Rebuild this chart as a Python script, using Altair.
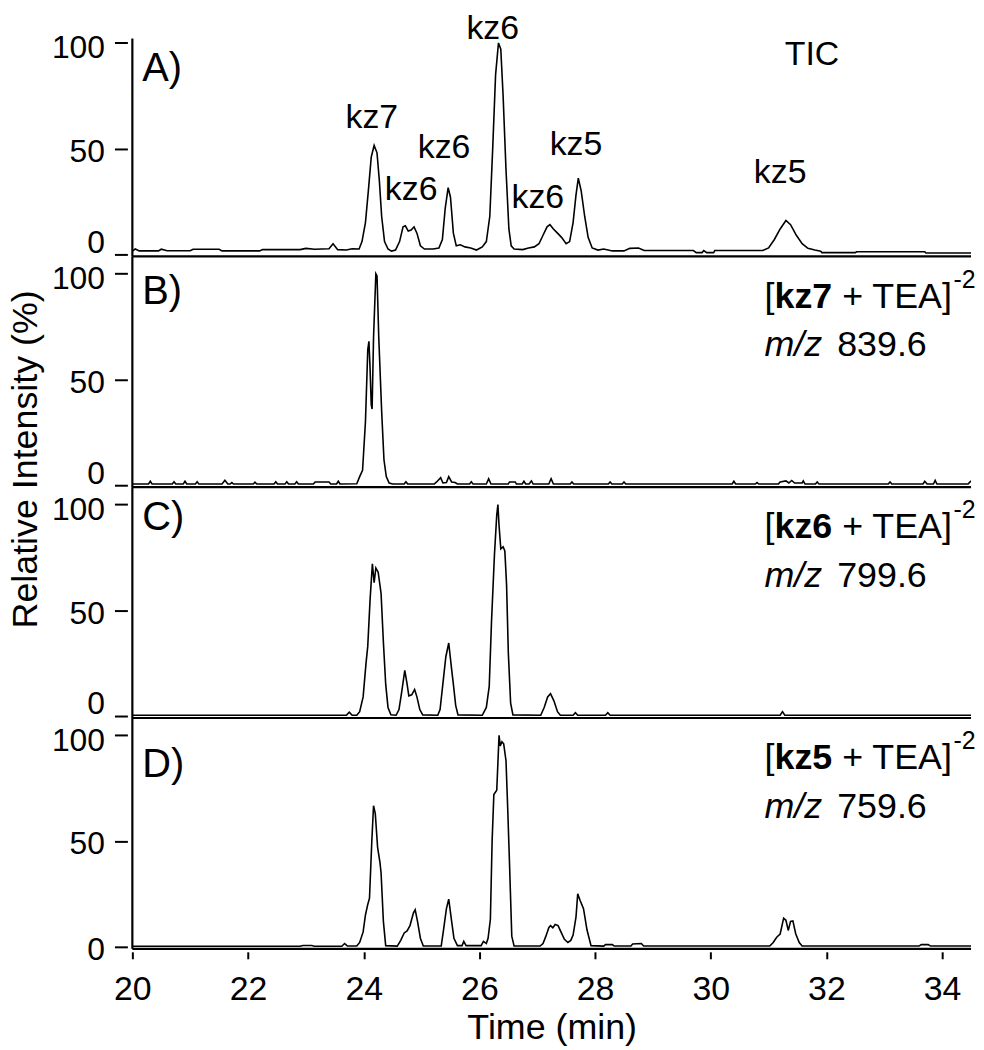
import altair as alt
import pandas as pd

FONT = "Liberation Sans"
T_DOMAIN = [20, 34.5]
V_DOMAIN = [-1, 108.2]
W, H = 843, 232

# ---------------- data ----------------
tic_t = [20.00, 20.05, 20.12, 20.45, 20.50, 20.60, 21.00, 21.05, 21.50, 21.55, 22.20, 22.25, 22.90, 23.00,
         23.15, 23.40, 23.47, 23.55, 23.70, 23.80, 23.92, 23.97, 24.03, 24.08, 24.13, 24.18, 24.23, 24.27,
         24.31, 24.36, 24.42, 24.48, 24.55, 24.62, 24.68, 24.72, 24.77, 24.82, 24.87, 24.92, 24.98, 25.05,
         25.20, 25.30, 25.36, 25.41, 25.46, 25.50, 25.55, 25.60, 25.67, 25.75, 25.85, 25.95, 26.05, 26.12,
         26.18, 26.23, 26.28, 26.33, 26.37, 26.41, 26.46, 26.51, 26.55, 26.60, 26.75, 26.85, 26.95, 27.03,
         27.10, 27.17, 27.22, 27.28, 27.35, 27.42, 27.50, 27.56, 27.62, 27.67, 27.71, 27.76, 27.82, 27.88,
         27.95, 28.05, 28.15, 28.30, 28.50, 28.60, 28.75, 28.85, 29.70, 29.75, 29.85, 29.88, 29.93, 30.05,
         30.07, 30.90, 31.00, 31.10, 31.20, 31.30, 31.38, 31.48, 31.58, 31.68, 31.80, 31.90, 31.92, 32.50,
         32.52, 33.70, 33.72, 34.50]
tic_v = [1.5, 2.5, 1.6, 1.6, 2.4, 1.7, 1.7, 2.4, 2.4, 1.6, 1.6, 2.2, 2.2, 2.8,
         2.4, 2.6, 5.0, 2.2, 2.0, 2.6, 2.5, 6.0, 15.0, 30.0, 46.0, 51.5, 48.0, 35.0,
         18.0, 6.0, 2.5, 1.5, 2.0, 6.0, 13.0, 13.5, 11.0, 11.5, 13.0, 10.0, 4.0, 2.5,
         2.5, 3.0, 7.0, 22.0, 31.5, 27.0, 10.0, 4.0, 4.5, 3.5, 3.0, 2.0, 3.5, 6.0,
         18.0, 50.0, 85.0, 100.0, 97.0, 75.0, 40.0, 12.0, 4.0, 2.5, 2.2, 3.0, 3.5, 5.0,
         9.0, 13.0, 14.0, 12.0, 10.0, 8.0, 5.0, 6.0, 15.0, 28.0, 36.0, 30.0, 18.0, 8.0,
         3.0, 2.0, 2.5, 1.6, 1.6, 2.8, 3.0, 1.8, 1.8, 0.8, 0.8, 1.8, 0.8, 0.8,
         1.8, 1.8, 3.0, 7.0, 12.0, 16.0, 14.0, 9.0, 5.0, 2.8, 2.0, 1.5, 0.8, 0.8,
         1.2, 1.2, 0.6, 0.6]

kz7_t = [20.00, 20.28, 20.31, 20.34, 20.69, 20.72, 20.75, 20.88, 20.91, 20.94, 21.09, 21.12, 21.15, 21.55,
         21.60, 21.65, 21.69, 21.72, 21.75, 22.09, 22.12, 22.15, 22.45, 22.48, 22.51, 22.64, 22.67, 22.70,
         22.81, 22.84, 22.87, 23.13, 23.16, 23.40, 23.43, 23.53, 23.56, 23.59, 23.88, 23.93, 23.98, 24.03,
         24.07, 24.09, 24.11, 24.13, 24.145, 24.17, 24.21, 24.23, 24.26, 24.31, 24.35, 24.39, 24.44, 24.50,
         24.70, 24.73, 24.76, 25.22, 25.26, 25.33, 25.37, 25.43, 25.47, 25.52, 25.58, 25.62, 25.83, 25.86,
         25.89, 26.12, 26.16, 26.20, 26.50, 26.52, 26.62, 26.64, 26.74, 26.77, 26.80, 26.86, 26.90, 26.93,
         27.20, 27.24, 27.28, 27.57, 27.60, 27.63, 28.23, 28.26, 28.29, 28.47, 28.50, 28.53, 30.37, 30.40,
         30.43, 30.77, 30.80, 30.83, 31.17, 31.20, 31.30, 31.35, 31.40, 31.45, 31.58, 31.60, 31.63, 31.81,
         31.84, 31.87, 33.07, 33.10, 33.13, 33.67, 33.70, 33.74, 33.85, 33.88, 33.91, 34.45, 34.50]
kz7_v = [0.5, 0.5, 1.8, 0.5, 0.5, 1.6, 0.5, 0.5, 1.8, 0.5, 0.5, 1.6, 0.5, 0.5,
         2.3, 0.5, 0.5, 1.2, 0.5, 0.5, 1.4, 0.5, 0.5, 1.6, 0.5, 0.5, 1.6, 0.5,
         0.5, 1.6, 0.5, 0.5, 1.5, 1.5, 0.5, 0.5, 1.8, 0.5, 0.6, 4.0, 7.0, 30.0,
         64.0, 68.0, 55.0, 38.0, 36.0, 70.0, 100.0, 99.0, 70.0, 35.0, 12.0, 4.0, 1.0, 0.5,
         0.5, 1.6, 0.5, 0.5, 1.5, 3.5, 1.0, 1.2, 4.0, 1.5, 1.2, 0.5, 0.5, 1.6,
         0.5, 0.5, 3.0, 0.5, 0.5, 1.5, 1.5, 0.5, 0.5, 1.8, 0.5, 0.5, 2.0, 0.5,
         0.5, 3.0, 0.5, 0.5, 1.5, 0.5, 0.5, 1.5, 0.5, 0.5, 1.5, 0.5, 0.5, 1.8,
         0.5, 0.5, 1.2, 0.5, 0.5, 1.5, 2.0, 1.0, 2.2, 1.0, 1.0, 2.0, 0.5, 0.5,
         1.5, 0.5, 0.5, 1.5, 0.5, 0.5, 1.8, 0.5, 0.5, 2.2, 0.5, 0.5, 2.0]

kz6_t = [20.00, 23.70, 23.75, 23.80, 23.88, 23.93, 23.99, 24.04, 24.07, 24.11, 24.15, 24.18, 24.21, 24.25,
         24.30, 24.34, 24.38, 24.42, 24.47, 24.56, 24.61, 24.66, 24.71, 24.75, 24.78, 24.83, 24.88, 24.92,
         24.97, 25.02, 25.28, 25.32, 25.38, 25.42, 25.47, 25.52, 25.55, 25.59, 25.63, 26.05, 26.12, 26.17,
         26.21, 26.26, 26.30, 26.32, 26.34, 26.37, 26.41, 26.44, 26.47, 26.50, 26.54, 26.58, 27.06, 27.12,
         27.18, 27.23, 27.29, 27.35, 27.40, 27.62, 27.66, 27.70, 28.18, 28.22, 28.26, 31.20, 31.24, 31.28,
         34.50]
kz6_v = [0.3, 0.3, 1.8, 0.3, 0.3, 2.0, 9.0, 25.0, 33.0, 55.0, 72.0, 63.0, 70.0, 68.0,
         58.0, 35.0, 15.0, 4.0, 0.5, 0.3, 3.0, 12.0, 21.5, 15.0, 9.5, 10.0, 12.5, 9.0,
         3.0, 0.5, 0.3, 3.0, 18.0, 28.0, 34.5, 22.0, 15.0, 5.0, 0.5, 0.3, 4.0, 14.0,
         45.0, 76.0, 95.0, 100.0, 90.0, 79.0, 80.0, 78.0, 62.0, 30.0, 6.0, 0.5, 0.3, 4.0,
         9.0, 10.5, 7.0, 2.0, 0.3, 0.3, 1.5, 0.3, 0.3, 1.5, 0.3, 0.3, 2.0, 0.3,
         0.3]

kz5_t = [20.00, 22.90, 22.95, 23.10, 23.15, 23.62, 23.67, 23.72, 23.88, 23.93, 23.99, 24.03, 24.07, 24.10,
         24.14, 24.17, 24.20, 24.24, 24.28, 24.30, 24.34, 24.38, 24.58, 24.64, 24.70, 24.75, 24.80, 24.86,
         24.89, 24.93, 24.98, 25.03, 25.34, 25.38, 25.43, 25.47, 25.52, 25.56, 25.62, 25.70, 25.73, 25.77,
         26.03, 26.07, 26.12, 26.15, 26.19, 26.22, 26.25, 26.30, 26.34, 26.36, 26.39, 26.42, 26.46, 26.49,
         26.52, 26.56, 26.60, 27.05, 27.10, 27.15, 27.20, 27.23, 27.27, 27.31, 27.36, 27.41, 27.47, 27.53,
         27.58, 27.62, 27.67, 27.70, 27.74, 27.80, 27.86, 27.93, 28.15, 28.18, 28.30, 28.33, 28.62, 28.65,
         28.80, 28.84, 31.02, 31.08, 31.14, 31.20, 31.26, 31.30, 31.34, 31.38, 31.42, 31.47, 31.53, 31.58,
         33.60, 33.64, 33.76, 33.80, 34.50]
kz5_v = [0.2, 0.2, 0.6, 0.6, 0.2, 0.2, 1.5, 0.3, 0.3, 2.0, 7.0, 15.0, 20.0, 23.0,
         50.0, 66.7, 63.0, 47.0, 40.0, 35.0, 12.0, 0.5, 0.3, 3.0, 6.5, 7.5, 10.0, 16.0,
         17.5, 12.0, 4.0, 0.3, 0.3, 8.0, 18.0, 22.5, 12.0, 4.0, 0.5, 0.5, 2.5, 0.5,
         0.5, 2.5, 1.5, 4.0, 13.0, 50.0, 72.0, 74.0, 100.0, 95.0, 97.0, 96.0, 88.0, 65.0,
         40.0, 5.0, 0.3, 0.3, 1.5, 5.0, 9.0, 10.0, 9.0, 10.5, 10.0, 7.0, 3.5, 2.0,
         3.0, 5.5, 14.0, 25.0, 22.0, 18.0, 8.0, 0.5, 0.3, 1.0, 1.0, 0.3, 0.3, 1.3,
         1.5, 0.3, 0.3, 2.0, 4.5, 6.0, 13.5, 12.5, 7.7, 12.0, 12.2, 6.0, 2.0, 0.3,
         0.3, 1.0, 1.0, 0.3, 0.3]

# peak labels of the TIC panel
tic_labels = ["kz7", "kz6", "kz6", "kz6", "kz5", "kz5"]
tic_label_t = [24.14, 24.82, 25.39, 27.01, 27.67, 31.20]
tic_label_v = [59.7, 25.8, 45.6, 22.1, 47.0, 33.8]
top_label = "kz6"
top_label_t = 26.23
top_label_v = 114.8

panel_letters = ["A)", "B)", "C)", "D)"]
letter_v = [82.0, 85.6, 88.0, 80.5]

ion_names = ["kz7", "kz6", "kz5"]
ion_mz = ["839.6", "799.6", "759.6"]

x_ticks = [20, 22, 24, 26, 28, 30, 32, 34]
y_ticks = [0, 50, 100]

# ---------------- helpers ----------------
xscale = alt.Scale(domain=T_DOMAIN, nice=False, zero=False)
yscale = alt.Scale(domain=V_DOMAIN, nice=False, zero=False)


def make_yaxis(lift_zero):
    conds = [{"test": "datum.value == 100", "value": 5}]
    if lift_zero:
        conds.insert(0, {"test": "datum.value == 0", "value": -12})
    return alt.Axis(values=y_ticks, domain=False, grid=False, tickSize=13, tickWidth=2,
                    tickColor="black", offset=5, labelFontSize=32, labelFont=FONT,
                    labelColor="black", labelPadding=10, labelFlush=False,
                    labelOverlap=False, labelOffset={"condition": conds, "value": 3},
                    title=None)


xaxis = alt.Axis(values=x_ticks, domain=False, grid=False, tickSize=7, tickWidth=2,
                 tickColor="black", offset=3, labelFontSize=34, labelFont=FONT,
                 labelColor="black", labelPadding=14, labelFlush=False,
                 labelOverlap=False, format="d", title="Time (min)",
                 titleFont=FONT, titleFontSize=36, titleFontWeight="normal",
                 titleColor="black", titlePadding=4)


def enc(show_x):
    return dict(
        x=alt.X("t:Q", scale=xscale, axis=xaxis if show_x else None),
        y=alt.Y("v:Q", scale=yscale, axis=make_yaxis(not show_x)),
    )


def text_layer(t, v, label, show_x, **mark):
    df = pd.DataFrame({"t": [t], "v": [v], "label": [label]})
    props = dict(font=FONT, color="black", fontSize=36, align="left", baseline="alphabetic")
    props.update(mark)
    return alt.Chart(df).mark_text(**props).encode(text="label:N", **enc(show_x))


def panel(ts, vs, idx, show_x, extra):
    df = pd.DataFrame({"t": ts, "v": vs})
    line = alt.Chart(df).mark_line(color="black", strokeWidth=1.6, clip=True).encode(**enc(show_x))
    one = pd.DataFrame({"a": [0]})
    top_px = 13 if idx == 0 else 0
    vrule = alt.Chart(one).mark_rule(color="black", strokeWidth=2.2).encode(
        x=alt.value(0), y=alt.value(top_px), y2=alt.value(H))
    hrule = alt.Chart(one).mark_rule(color="black", strokeWidth=2.2).encode(
        x=alt.value(0), x2=alt.value(W), y=alt.value(H))
    letter = text_layer(20.17, letter_v[idx], panel_letters[idx], show_x, fontSize=40)
    return alt.layer(line, hrule, vrule, letter, *extra).properties(width=W, height=H)


def ion_label(name, mz, show_x):
    t0 = 30.93
    return [
        text_layer(t0, 84.0, "[", show_x),
        text_layer(t0, 84.0, name, show_x, fontWeight="bold", dx=10),
        text_layer(t0, 84.0, "+ TEA]", show_x, dx=78),
        text_layer(t0, 84.0, "-2", show_x, fontSize=25, dx=190, dy=-20),
        text_layer(t0, 61.0, "m/z", show_x, fontStyle="italic"),
        text_layer(t0, 61.0, mz, show_x, dx=73),
    ]


# panel A extras
ann_df = pd.DataFrame({"t": tic_label_t, "v": tic_label_v, "label": tic_labels})
ann = alt.Chart(ann_df).mark_text(font=FONT, fontSize=34, color="black", align="center",
                                  baseline="alphabetic").encode(text="label:N", **enc(False))
top_ann = text_layer(top_label_t, top_label_v, top_label, False, fontSize=34, align="center",
                     baseline="top")
tic_txt = text_layer(31.75, 89.4, "TIC", False, fontSize=34, align="center")

# y title lives in panel B
ytitle = alt.Chart(pd.DataFrame({"label": ["Relative Intensity (%)"]})).mark_text(
    font=FONT, fontSize=36, color="black", angle=270, align="center", baseline="middle"
).encode(text="label:N", x=alt.value(-107), y=alt.value(204))

pA = panel(tic_t, tic_v, 0, False, [ann, top_ann, tic_txt])
pB = panel(kz7_t, kz7_v, 1, False, ion_label(ion_names[0], ion_mz[0], False) + [ytitle])
pC = panel(kz6_t, kz6_v, 2, False, ion_label(ion_names[1], ion_mz[1], False))
pD = panel(kz5_t, kz5_v, 3, True, ion_label(ion_names[2], ion_mz[2], True))

chart = alt.vconcat(pA, pB, pC, pD, spacing=0).properties(
    bounds="flush", padding=0, background="white"
).configure_view(stroke=None)

chart.save("out.html", embed_options={"renderer": "svg", "actions": False})
